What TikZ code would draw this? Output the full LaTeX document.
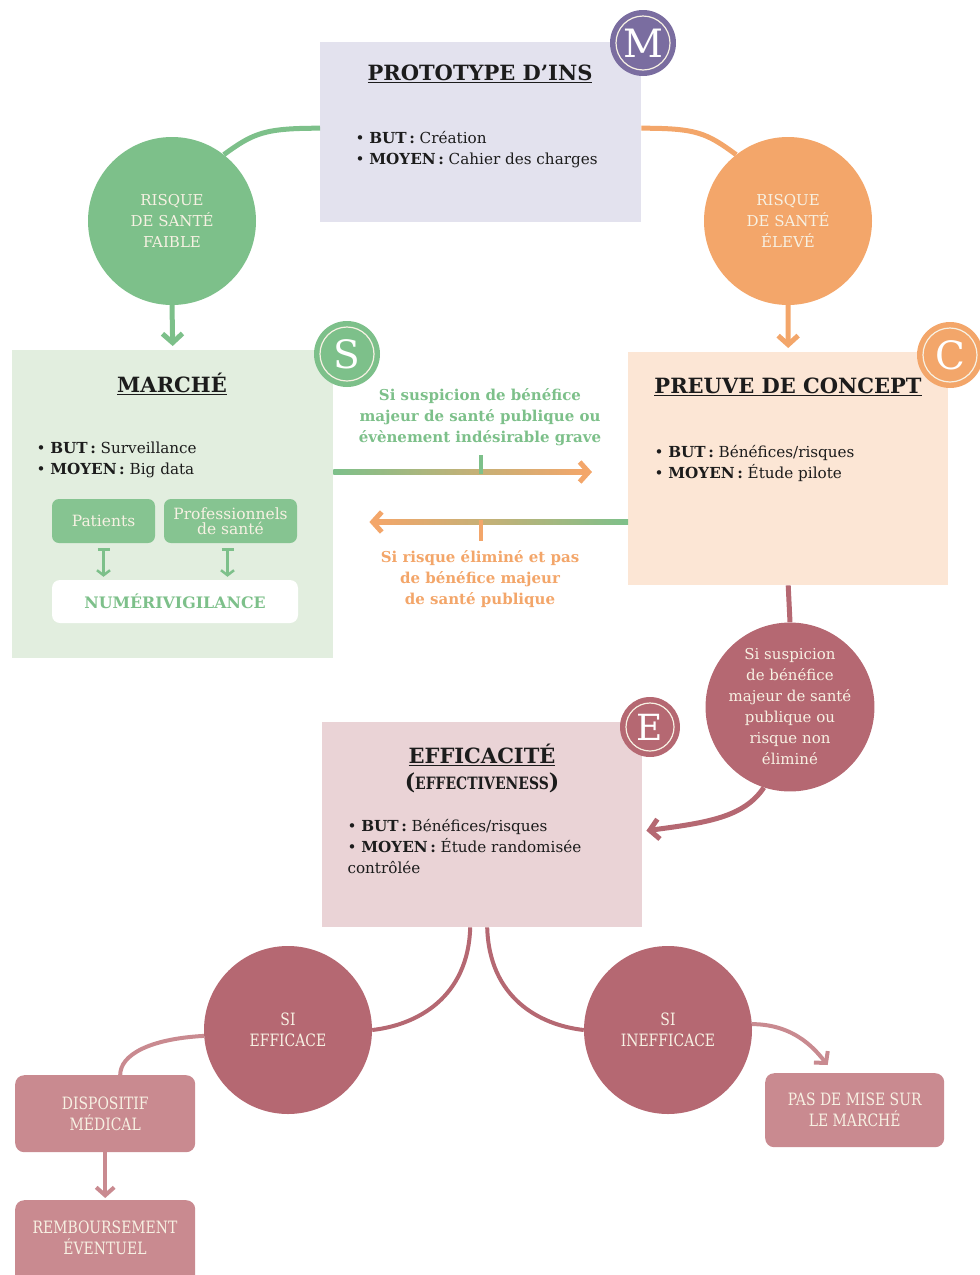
\documentclass[tikz,border=0pt]{standalone}
\usepackage{fontspec}
\setmainfont{DejaVu Serif}
\newfontfamily\cond[FakeStretch=0.82]{DejaVu Serif}
\usetikzlibrary{arrows.meta,calc}
\definecolor{grn}{HTML}{7DC08A}
\definecolor{grnbox}{HTML}{86C491}
\definecolor{grnbg}{HTML}{E2EEDF}
\definecolor{org}{HTML}{F3A66A}
\definecolor{orgbg}{HTML}{FCE6D5}
\definecolor{lav}{HTML}{E3E2EE}
\definecolor{pur}{HTML}{7A6DA0}
\definecolor{mau}{HTML}{B56872}
\definecolor{mault}{HTML}{C98A90}
\definecolor{maubg}{HTML}{EAD3D6}
\definecolor{cream}{HTML}{F7F1E3}
\definecolor{ink}{HTML}{1C1C1C}
\begin{document}
\begin{tikzpicture}[x=1pt,y=-1pt,
  panel/.style={draw=none, anchor=north west, inner sep=0},
  bigc/.style={circle, minimum size=168pt, inner sep=0, text=cream, align=center, font=\fontsize{15}{21}\selectfont},
  letterc/.style={circle, minimum size=66pt, inner sep=0, text=white, font=\fontsize{39}{39}\selectfont},
  ttl/.style={text=ink, font=\fontsize{21}{24}\selectfont\bfseries},
  bul/.style={text=ink, anchor=west, align=left, font=\fontsize{15.2}{21}\selectfont},
  sub/.style={rounded corners=7pt, minimum height=44pt, inner sep=0, text=cream, align=center, font=\fontsize{15.5}{15}\selectfont},
  mbox/.style={rounded corners=9pt, fill=mault, anchor=north west, minimum width=180pt, inner sep=0, text=cream, align=center, font=\cond\fontsize{17}{21}\selectfont},
  conn/.style={line width=5pt},
  tip/.style={-{Straight Barb[length=9pt,width=20pt]}},
  arrtxt/.style={align=center, font=\fontsize{15}{21}\selectfont\bfseries}
]
\useasboundingbox (0,0) rectangle (980,1275);
\clip (0,0) rectangle (980,1275);

% ---------- panels ----------
\node[panel, fill=lav, minimum width=321pt, minimum height=180pt] (proto) at (320,42) {};
\node[panel, fill=grnbg, minimum width=321pt, minimum height=308pt] (marche) at (12,350) {};
\node[panel, fill=orgbg, minimum width=320pt, minimum height=233pt] (preuve) at (628,352) {};
\node[panel, fill=maubg, minimum width=320pt, minimum height=205pt] (effic) at (322,722) {};

% ---------- prototype ----------
\node[ttl] (tproto) at (480,74) {\underline{PROTOTYPE D’INS}};
\node[bul] (bproto) at (352,150) {• \textbf{BUT\,:} Création\\• \textbf{MOYEN\,:} Cahier des charges};
\node[letterc, fill=pur] (mc) at (643,43) {M};
\draw[cream, line width=1.2pt] (mc.center) circle[radius=27pt];

% ---------- risk circles ----------
\node[bigc, fill=grn] (lo) at (172,221) {RISQUE\\DE SANTÉ\\FAIBLE};
\node[bigc, fill=org] (hi) at (788,221) {RISQUE\\DE SANTÉ\\ÉLEVÉ};

\draw[grn, conn] ([yshift=4pt]proto.west) .. controls +(-55,0) and +(30,-22) .. (lo.52);
\draw[org, conn] ([yshift=4pt]proto.east) .. controls +(55,0) and +(-30,-22) .. (hi.128);
\draw[grn, conn, tip] (lo.south) -- ([yshift=4pt]marche.north);
\draw[org, conn, tip] (hi.south) -- ([yshift=4pt]preuve.north);

% ---------- marche ----------
\node[ttl] (tmarche) at (172,384) {\underline{MARCHÉ}};
\node[bul] (bmarche) at (33,460) {• \textbf{BUT\,:} Surveillance\\• \textbf{MOYEN\,:} Big data};
\node[letterc, fill=grn] (sc) at (347,354) {S};
\draw[cream, line width=1.2pt] (sc.center) circle[radius=27pt];
\node[sub, fill=grnbox, minimum width=103pt] (pat) at (103.5,521) {Patients};
\node[sub, fill=grnbox, minimum width=133pt] (pro) at (230.5,521) {Professionnels\\de santé};
\node[rounded corners=8pt, fill=white, minimum width=246pt, minimum height=43pt, inner sep=0, text=grn, font=\fontsize{15.8}{15}\selectfont\bfseries] (numeri) at (175,601.5) {NUMÉRIVIGILANCE};
\draw[grn, line width=2.5pt, {Bar[width=12pt]}-{Straight Barb[length=5pt,width=13pt]}] ($(pat.south)+(0,5)$) -- ($(numeri.north -| pat.south)+(0,-3)$);
\draw[grn, line width=2.5pt, {Bar[width=12pt]}-{Straight Barb[length=5pt,width=13pt]}] ($(pro.south)+(-3,5)$) -- ($(numeri.north -| pro.south)+(-3,-3)$);

% ---------- preuve ----------
\node[ttl] (tpreuve) at (788,387) {\underline{PREUVE DE CONCEPT}};
\node[bul] (bpreuve) at (651,463) {• \textbf{BUT\,:} Bénéfices/risques\\• \textbf{MOYEN\,:} Étude pilote};
\node[letterc, fill=org] (cc) at (950,355) {C};
\draw[cream, line width=1.2pt] (cc.center) circle[radius=27pt];

% ---------- middle exchange arrows ----------
\coordinate (a1s) at (marche.east |- 0,472);
\coordinate (a1e) at ($(preuve.west |- 0,472)+(-36,0)$);
\coordinate (a2s) at (preuve.west |- 0,522);
\coordinate (a2e) at ($(marche.east |- 0,522)+(36,0)$);
\shade[left color=grn, right color=org, middle color=grn!45!org] ($(a1s)+(0,-2.5)$) rectangle ($(a1e)+(-6,2.5)$);
\draw[org, conn, tip] ($(a1e)+(-12,0)$) -- (a1e);
\draw[grn, line width=4pt] (481,455) -- (481,474);
\shade[left color=org, right color=grn, middle color=grn!45!org] ($(a2e)+(6,-2.5)$) rectangle ($(a2s)+(0,2.5)$);
\draw[org, conn, tip] ($(a2e)+(12,0)$) -- (a2e);
\draw[org, line width=4pt] (481,520) -- (481,541);
\node[arrtxt, text=grn] (t1) at (480,417) {Si suspicion de bénéfice\\majeur de santé publique ou\\évènement indésirable grave};
\node[arrtxt, text=org] (t2) at (480,579) {Si risque éliminé et pas\\de bénéfice majeur\\de santé publique};

% ---------- suspicion circle ----------
\node[bigc, fill=mau] (susp) at (790,707) {Si suspicion\\de bénéfice\\majeur de santé\\publique ou\\risque non\\éliminé};
\draw[mau, conn] (preuve.south) -- (susp.north);
\draw[mau, conn, tip] (susp.-108) .. controls +(-20,30) and +(60,-8) .. ($(effic.east)+(4,6)$);

% ---------- efficacite ----------
\node[ttl] (teffic) at (482,755) {\underline{EFFICACITÉ}};
\node[text=ink, font=\bfseries] (teff2) at (482,783) {{\fontsize{22}{22}\selectfont(}{\cond\fontsize{17}{17}\selectfont EFFECTIVENESS}{\fontsize{22}{22}\selectfont)}};
\node[bul] (beffic) at (344,847) {• \textbf{BUT\,:} Bénéfices/risques\\• \textbf{MOYEN\,:} Étude randomisée\\contrôlée};
\node[letterc, fill=mau, minimum size=60pt, font=\fontsize{36}{36}\selectfont] (ec) at (650,727) {E};
\draw[cream, line width=1.2pt] (ec.center) circle[radius=24pt];

% ---------- bottom ----------
\node[bigc, fill=mau, font=\cond\fontsize{17}{21}\selectfont] (eff) at (288,1030) {SI\\EFFICACE};
\node[bigc, fill=mau, font=\cond\fontsize{17}{21}\selectfont] (ineff) at (668,1030) {SI\\INEFFICACE};
\node[mbox, minimum height=77pt] (disp) at (15,1075) {DISPOSITIF\\MÉDICAL};
\node[mbox, minimum height=85pt] (remb) at (15,1200) {};
\node[text=cream, align=center, font=\cond\fontsize{17}{21}\selectfont] (tremb) at (105,1238) {REMBOURSEMENT\\ÉVENTUEL};
\node[mbox, minimum height=74pt, minimum width=179pt] (pas) at (765,1073) {PAS DE MISE SUR\\LE MARCHÉ};

\draw[mau, line width=4pt] ($(effic.south)+(-12,0)$) .. controls +(-2,70) and +(45,-5) .. (eff.east);
\draw[mau, line width=4pt] ($(effic.south)+(5,0)$) .. controls +(2,70) and +(-45,-5) .. (ineff.west);
\draw[mault, line width=4pt] (eff.184) .. controls +(-55,3) and +(0,-20) .. ([xshift=15pt]disp.north);
\draw[mault, line width=4pt, -{Straight Barb[length=8pt,width=18pt]}] (disp.south) -- ([yshift=2pt]remb.north);
\draw[mault, line width=4pt, -{Straight Barb[length=8pt,width=18pt]}] (ineff.4) .. controls +(45,0) and +(-10,-12) .. ($(pas.north)+(-27,-8)$);
\end{tikzpicture}
\end{document}
